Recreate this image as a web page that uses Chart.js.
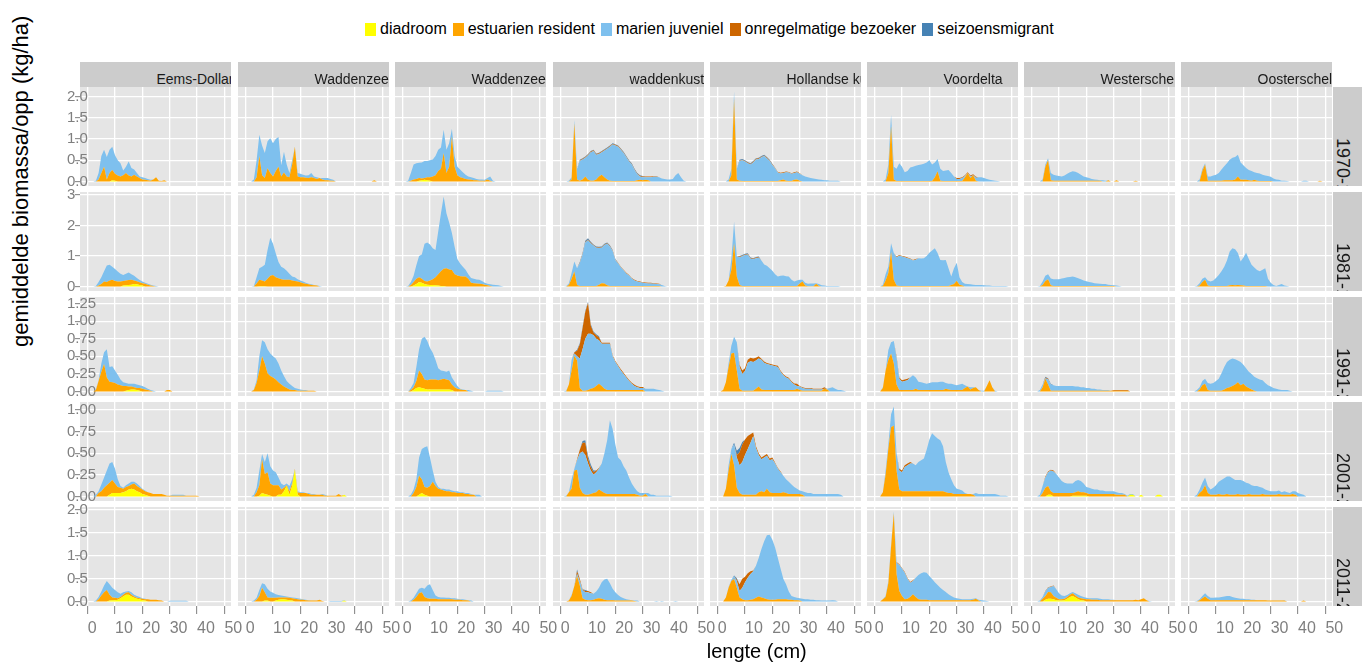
<!DOCTYPE html>
<html>
<head>
<meta charset="utf-8">
<script src="https://cdn.jsdelivr.net/npm/chart.js@4.4.0/dist/chart.umd.min.js"></script>
<style>
  html, body { margin: 0; padding: 0; }
  body { width: 1362px; height: 663px; background: #fff; position: relative; overflow: hidden;
         font-family: "Liberation Sans", Arial, sans-serif; }
  canvas { position: absolute; }
  .legend { position: absolute; left: 365px; top: 21px; height: 16px; display: flex; align-items: center;
            font-size: 16px; color: #000; white-space: nowrap; }
  .legend .item { display: flex; align-items: center; margin-right: 6px; }
  .legend .key { width: 11px; height: 13px; margin-right: 4px; }
  .strip { position: absolute; background: #cccccc; overflow: hidden; }
  .strip span { position: absolute; white-space: nowrap; color: #1a1a1a; }
  .title { position: absolute; white-space: nowrap; color: #000; transform-origin: 0 0; }
</style>
</head>
<body>
<script>
const regions = ['Eems-Dollard', 'Waddenzee west', 'Waddenzee oost', 'waddenkust', 'Hollandse kust', 'Voordelta', 'Westerschelde', 'Oosterschelde'];
const periods = ['1970-1980', '1981-1990', '1991-2000', '2001-2010', '2011-2020'];
const groups = ['diadroom', 'estuarien resident', 'marien juveniel', 'onregelmatige bezoeker', 'seizoensmigrant'];
const groupColors = ['#FFFF00', '#FFA500', '#7EC0EE', '#CD6600', '#4682B4'];

// lengte (cm)
const lengths = [0,1,2,3,4,5,6,7,8,9,10,11,12,13,14,15,16,17,18,19,20,21,22,23,24,25,26,27,28,29,30,31,32,33,34,35,36,37,38,39,40,41,42,43,44,45,46,47,48,49,50];
const xTicks = [0, 10, 20, 30, 40, 50];
const xTickLabels = ['0', '10', '20', '30', '40', '50'];
const yTicks = [[0, 0.5, 1, 1.5, 2], [0, 1, 2, 3], [0, 0.25, 0.5, 0.75, 1, 1.25], [0, 0.25, 0.5, 0.75, 1], [0, 0.5, 1, 1.5, 2]];
const yTickLabels = [['0.0', '0.5', '1.0', '1.5', '2.0'], ['0', '1', '2', '3'], ['0.00', '0.25', '0.50', '0.75', '1.00', '1.25'], ['0.00', '0.25', '0.50', '0.75', '1.00'], ['0.0', '0.5', '1.0', '1.5', '2.0']];

// biomass per length class, one list per region (columns), values from 0 cm upward

// ---- 1970-1980
const diadroom1970 = [
  [0,0,0,0,0,0,0,0,0,0.03,0.02],
  [],
  [0,0,0,0,0,0,0.02,0.03,0.04,0.03,0.02],
  [], [], [], [], []
];
const estuarien1970 = [
  [0,0,0,0,0.05,0.2,0.35,0.05,0.2,0.24,0.16,0.14,0.12,0.15,0.2,0.14,0.12,0.16,0.12,0.08,0.05,0.04,0.03,0.02,0.05,0.1,0.02,0.01,0.03],
  [0,0,0,0,0.1,0.6,0.15,0.08,0.31,0.2,0.12,0.25,0.35,0.12,0.21,0.12,0.1,0.4,0.82,0.12,0.1,0.1,0.09,0.08,0.1,0.08,0.06,0.08,0.05,0.03,0.03,0.02,0.02,0,0,0,0,0,0,0,0,0,0,0,0,0,0,0.03],
  [0,0,0,0.02,0.05,0.06,0.06,0.04,0.04,0.07,0.08,0.12,0.15,0.25,0.3,0.67,0.2,0.35,1.06,0.35,0.15,0.1,0.08,0.06,0.05,0.04,0.03,0.03,0.02,0.02,0.02,0.05,0.02],
  [0,0,0,0,0.05,1.37,0.05,0.02,0.05,0.12,0.04,0.02,0.02,0.05,0.12,0.16,0.1,0.05,0.02,0.01,0.01,0.01,0.01,0.01,0.01,0.01,0.01,0.01,0.03,0.04,0.03,0.04,0.03],
  [0,0,0,0,0,0.15,1.95,0.05,0.02,0.01,0.01,0.01,0.01,0.01,0.01,0.01,0.01,0.01,0.01,0.01,0.01,0.01,0.01,0.03,0.05,0.02,0.01,0.01,0.04,0.05,0.02],
  [0,0,0,0,0,0.2,1.3,0.05,0.01,0.01,0.01,0.01,0.01,0.01,0.01,0.01,0.01,0.01,0.01,0.01,0.01,0.01,0.1,0.24,0.02,0.01,0.01,0.01,0.01,0.01,0.01,0.01,0.01,0.1,0.2,0.08,0.15,0.02],
  [0,0,0,0,0,0.35,0.5,0.03,0.02,0.02,0.02,0.02,0.02,0.02,0.02,0.02,0.02,0.02,0.02,0.02,0.02,0.02,0.02,0.02,0.02,0.02,0,0,0.03,0,0,0.03,0,0,0,0,0,0,0.02],
  [0,0,0,0,0,0.25,0.4,0.02,0.02,0.02,0.02,0.02,0.02,0.03,0.03,0.03,0.03,0.05,0.12,0.04,0.04,0.04,0.03,0.02,0.04,0.02,0.01,0.01,0.01,0.01,0.01,0,0,0,0,0,0,0,0,0,0,0,0,0,0,0,0,0,0.02]
];
const marien1970 = [
  [0,0,0,0.02,0.15,0.4,0.4,0.53,0.55,0.55,0.44,0.36,0.31,0.11,0.15,0.33,0.2,0.12,0.08,0.04,0.05,0.04,0.03,0.02],
  [0,0,0,0.05,0.4,0.5,0.7,0.59,0.64,0.82,0.78,0.75,0.7,0.26,0.49,0.28,0.1,0.1,0,0.08,0.08,0.06,0.05,0.07,0.1,0.04,0.04,0,0.03,0.05,0.05,0.04,0.02],
  [0,0,0.02,0.18,0.35,0.37,0.36,0.38,0.4,0.38,0.4,0.4,0.45,0.5,0.5,0.55,0.55,0.55,0.18,0.25,0.2,0.18,0.14,0.1,0.07,0.06,0.05,0.03,0.03,0.03,0.02,0.03,0.1,0.02],
  [0,0,0,0.02,0.05,0.08,0.25,0.46,0.47,0.44,0.58,0.67,0.7,0.58,0.53,0.53,0.63,0.72,0.8,0.86,0.84,0.81,0.74,0.66,0.56,0.46,0.39,0.26,0.14,0.08,0.07,0.06,0.07,0.1,0.11,0.11,0.1,0.07,0.06,0.05,0.05,0.06,0.15,0.2,0.1,0.02],
  [0,0,0,0,0.05,0.15,0.17,0.25,0.46,0.49,0.46,0.42,0.39,0.44,0.51,0.52,0.56,0.59,0.54,0.47,0.38,0.3,0.2,0.16,0.15,0.2,0.2,0.17,0.16,0.17,0.16,0.15,0.12,0.1,0.08,0.07,0.06,0.05,0.04,0.03,0.03,0.02,0.02,0.02,0.02],
  [0,0,0,0,0.05,0.2,0.27,0.3,0.29,0.42,0.34,0.21,0.24,0.32,0.34,0.36,0.38,0.39,0.41,0.44,0.49,0.39,0.35,0.29,0.28,0.24,0.25,0.26,0.19,0.11,0.05,0.05,0.07,0.03,0,0.04,0,0.07,0.1,0.1,0.08,0.06,0.04,0.03,0.02,0.01],
  [0,0,0,0,0.05,0.05,0.05,0.17,0.14,0.12,0.11,0.1,0.12,0.16,0.2,0.22,0.21,0.18,0.14,0.1,0.08,0.06,0.04,0.03,0.02,0.01,0.03,0.02],
  [0,0,0,0,0.05,0.05,0.03,0.1,0.1,0.12,0.14,0.18,0.26,0.33,0.4,0.48,0.53,0.53,0.51,0.41,0.34,0.28,0.24,0.23,0.18,0.18,0.18,0.15,0.13,0.12,0.1,0.07,0.05,0.04,0.02,0.02,0.01,0,0,0,0,0,0.02,0.02]
];
const onregelmatig1970 = [
  [], [], [],
  [0,0,0,0,0,0,0,0.015,0.015,0.015,0.015,0.015,0.015,0.015,0.015,0.015,0.015,0.015,0.015,0.015,0.015,0.015,0.015,0.015,0.015,0.015,0.015,0.015,0.015,0.015,0.015,0.015,0.015,0.015,0.015,0.015],
  [0,0,0,0,0,0,0,0,0.015,0.015,0.015,0.015,0.015,0.015,0.015,0.015,0.015,0.015,0.015,0.015,0.015,0.015,0.015,0.015,0.015,0.015,0.015,0.015,0.015,0.015,0.015],
  [0,0,0,0,0,0,0,0,0,0,0,0,0,0,0,0,0,0,0,0,0,0,0,0,0,0,0,0,0,0,0.02,0.02,0.02,0.02,0.02,0.02,0.02,0.02],
  [], []
];
const seizoen1970 = [
  [], [], [],
  [0,0,0,0,0,0,0,0.015,0.015,0.015,0.015,0.015,0.015,0.015,0.015,0.015,0.015,0.015,0.015,0.015,0.015,0.015,0.015,0.015,0.015,0.015,0.015,0.015,0.015,0.015,0.015],
  [0,0,0,0,0,0,0,0,0.015,0.015,0.015,0.015,0.015,0.015,0.015,0.015,0.015,0.015,0.015,0.015,0.015],
  [], [], []
];

// ---- 1981-1990
const diadroom1981 = [
  [0,0,0,0,0,0,0,0,0,0,0,0,0,0.03,0.04,0.05,0.06,0.08,0.07,0.05,0.03],
  [0,0,0,0,0,0.01,0.01,0.01],
  [0,0,0,0,0.03,0.08,0.15,0.12,0.08,0.06,0.05,0.05,0.04,0.03,0.02,0.02],
  [], [], [], [], []
];
const estuarien1981 = [
  [0,0,0,0,0.03,0.08,0.16,0.15,0.2,0.22,0.18,0.16,0.16,0.15,0.16,0.16,0.16,0.12,0.1,0.09,0.08,0.09,0.06,0.03,0.02],
  [0,0,0,0,0.1,0.21,0.19,0.15,0.25,0.35,0.38,0.3,0.27,0.24,0.22,0.22,0.22,0.2,0.18,0.16,0.14,0.11,0.09,0.07,0.05,0.04,0.03],
  [0,0,0,0.05,0.12,0.17,0.15,0.13,0.1,0.1,0.15,0.19,0.26,0.37,0.48,0.56,0.6,0.56,0.54,0.4,0.36,0.34,0.33,0.33,0.25,0.12,0.11,0.1,0.09,0.08,0.06,0.04,0.02],
  [0,0,0,0.05,0.25,0.49,0.05,0.02,0.02,0.02,0.02,0.02,0.02,0.02,0.06,0.11,0.1,0.04,0.02,0.02,0.02,0.02,0.02,0.02,0.02,0.02,0.02,0.02,0.02,0.02,0.02,0.02,0.02,0.02,0.02,0.02,0.02],
  [0,0,0,0.02,0.2,0.54,1.42,0.33,0.05,0.02,0.02,0.02,0.02,0.02,0.02,0.02,0.02,0.02,0.02,0.02,0.02,0.02,0.02,0.02,0.02,0.02,0.02,0.02,0.02,0.02,0.1,0.16,0.03,0.01,0.01,0.01,0.09,0.02],
  [0,0,0,0.02,0.2,0.44,1.14,0.22,0.03,0.02,0.02,0.02,0.02,0.02,0.02,0.02,0.02,0.02,0.02,0.02,0.02,0.02,0.02,0.02,0.02,0.02,0.02,0.02,0.05,0.08,0.19,0.06,0.03],
  [0,0,0,0,0.05,0.18,0.24,0.04,0.02,0.02,0.02,0.02,0.02,0.02,0.02,0.02,0.02,0.02,0.02,0.02,0.02,0.02,0.02,0.02,0.02,0.02,0.02,0.02,0.02,0.02,0.02],
  [0,0,0,0,0.03,0.15,0.22,0.03,0.02,0.02,0.02,0.02,0.02,0.02,0.02,0.04,0.05,0.04,0.05,0.04,0.03,0.02,0.02,0.02,0.02,0.02,0.02,0.02,0.02]
];
const marien1981 = [
  [0,0,0,0.02,0.12,0.22,0.34,0.54,0.51,0.43,0.39,0.33,0.26,0.2,0.22,0.25,0.18,0.15,0.11,0.07,0.05,0.03,0.03,0.03,0.01,0.02],
  [0,0,0,0.02,0.2,0.38,0.45,0.55,0.95,1.25,1.02,0.79,0.53,0.41,0.38,0.3,0.2,0.13,0.12,0.08,0.06,0.05,0.03,0.02,0.02,0.01,0.01,0.02],
  [0,0,0.02,0.1,0.2,0.45,0.7,0.8,1.22,1.28,1.18,1.01,0.9,1.4,1.9,2.37,1.8,1.54,1.21,0.9,0.54,0.41,0.32,0.22,0.15,0.16,0.14,0.13,0.13,0.1,0.06,0.05,0.05,0.06,0.05,0.04,0.02],
  [0,0,0.01,0.05,0.2,0.33,0.55,0.74,1.03,1.42,1.5,1.4,1.32,1.25,1.2,1.16,1.26,1.36,1.29,1.14,0.84,0.74,0.61,0.51,0.41,0.34,0.24,0.18,0.14,0.12,0.1,0.09,0.08,0.08,0.07,0.06,0.05,0.05,0.02],
  [0,0,0,0,0,0.36,0.7,0.65,0.91,0.97,1.01,1.03,0.89,0.87,0.91,0.92,0.83,0.7,0.66,0.58,0.5,0.38,0.31,0.33,0.34,0.32,0.31,0.2,0.14,0.18,0.12,0.06,0.09,0.08,0.09,0.09,0.02,0.06,0.04,0.03,0.02,0.02,0.02,0.02,0.02],
  [0,0,0,0.04,0.2,0.21,0.28,0.88,0.93,0.99,0.96,0.94,0.91,0.88,0.83,0.86,0.91,0.9,0.91,0.98,1.09,1.16,1.23,1.08,0.85,0.84,0.85,0.58,0.28,0.52,0.59,0.24,0.12,0.09,0.08,0.07,0.06,0.05,0.05,0.05,0.04,0.03,0.03,0.02,0.02,0.02,0.02,0.02,0.02],
  [0,0,0,0.02,0.11,0.17,0.16,0.22,0.22,0.22,0.22,0.24,0.26,0.28,0.29,0.31,0.28,0.25,0.22,0.18,0.15,0.13,0.11,0.09,0.08,0.07,0.06,0.06,0.04,0.03,0.02,0.03,0.02],
  [0,0,0,0.02,0.08,0.1,0.08,0.17,0.14,0.18,0.26,0.36,0.48,0.63,0.83,1.11,1.2,1.18,1.05,0.78,0.92,1.09,0.88,0.69,0.6,0.52,0.48,0.53,0.58,0.25,0.12,0.05,0.02,0.05,0.08,0.03,0.02]
];
const onregelmatig1981 = [
  [], [], [],
  [0,0,0,0,0,0,0,0.02,0.02,0.02,0.02,0.02,0.02,0.02,0.02,0.02,0.02,0.02,0.02,0.02,0.02,0.02,0.02,0.02,0.02,0.02,0.02,0.02,0.02,0.02,0.02,0.02,0.02,0.02,0.02,0.02,0.02],
  [0,0,0,0,0,0,0,0,0.02,0.02,0.02,0.02,0.02,0.02,0.02,0.02],
  [0,0,0,0,0,0,0,0,0.02,0.02,0.02,0.02,0.02,0.02,0.02,0.02],
  [], []
];
const seizoen1981 = [
  [], [], [],
  [0,0,0,0,0,0,0,0.02,0.03,0.04,0.04,0.03,0.02,0.02,0.02,0.02,0.02,0.02,0.02,0.02,0.02],
  [0,0,0,0,0,0,0,0,0.02,0.02,0.02,0.02,0.02,0.02,0.02,0.02],
  [], [], []
];

// ---- 1991-2000
const diadroom1991 = [
  [0,0,0,0,0,0,0,0,0,0,0,0,0,0,0.01,0.02,0.03,0.03,0.02,0.01],
  [],
  [0,0,0,0,0.02,0.05,0.06,0.05,0.04,0.03,0.03,0.03,0.03,0.03,0.03,0.03,0.03,0.03,0.02],
  [], [], [], [], []
];
const estuarien1991 = [
  [0,0,0,0.02,0.15,0.28,0.39,0.2,0.14,0.13,0.12,0.1,0.09,0.08,0.07,0.05,0.04,0.03,0.03,0.04,0.04,0.03,0.02,0.01,0,0,0,0,0,0.02,0.02],
  [0,0,0,0.02,0.12,0.3,0.5,0.4,0.26,0.22,0.2,0.17,0.13,0.1,0.07,0.05,0.03,0.02,0.02,0.01,0.01,0.01,0.01,0.01,0.01,0.01],
  [0,0,0,0.02,0.04,0.1,0.24,0.2,0.13,0.13,0.14,0.14,0.14,0.13,0.14,0.15,0.14,0.13,0.08,0.06,0.04,0.03,0.02,0.02],
  [0,0,0,0.1,0.3,0.51,0.44,0.05,0.01,0.01,0.02,0.04,0.05,0.08,0.11,0.08,0.04,0.02,0.02,0.02,0.02,0.02,0.02,0.02,0.02,0.02,0.02,0.02,0.02,0.02,0.02],
  [0,0,0.02,0.13,0.35,0.54,0.55,0.3,0.04,0.01,0.01,0.01,0.01,0.01,0.04,0.07,0.03,0.02,0.02,0.02,0.02,0.02,0.02,0.02,0.02,0.02,0.02,0.02,0.02,0.04,0.02,0.01,0.01,0.01,0.01,0.01,0.01,0.01,0.01,0.04,0.03],
  [0,0,0,0.05,0.3,0.45,0.54,0.4,0.1,0.02,0.02,0.02,0.02,0.02,0.02,0.04,0.02,0.02,0.02,0.02,0.02,0.02,0.02,0.02,0.02,0.02,0.04,0.03,0.02,0.02,0.02,0.02,0.02,0.05,0.07,0.03,0.05,0.06,0.02,0,0,0.08,0.16,0.06],
  [0,0,0,0,0.06,0.18,0.1,0.01,0.01,0.01,0.01,0.01,0.01,0.01,0.01,0.01,0.01,0.01,0.01,0.01,0.01,0.01,0.01,0.01,0.01,0.01,0.01,0.01,0.01,0.01,0.01,0.01,0.01,0.01,0.01,0.01],
  [0,0,0,0,0.03,0.09,0.11,0.02,0.01,0.01,0.01,0.01,0.01,0.03,0.05,0.06,0.08,0.1,0.13,0.09,0.11,0.07,0.05,0.03,0.01]
];
const marien1991 = [
  [0,0,0,0.01,0.01,0.12,0.17,0.4,0.21,0.23,0.18,0.14,0.08,0.05,0.04,0.04,0.04,0.05,0.05,0.04,0.04,0.03,0.02,0.01,0.01],
  [0,0,0,0.01,0.04,0.2,0.23,0.3,0.34,0.32,0.3,0.3,0.27,0.2,0.15,0.1,0.08,0.06,0.03,0.03,0.02,0.01,0.01],
  [0,0,0,0.03,0.06,0.2,0.3,0.5,0.61,0.56,0.45,0.38,0.28,0.17,0.13,0.11,0.11,0.14,0.1,0.08,0.04,0.01,0.01,0,0.02,0.01,0,0,0,0,0,0.01,0.01,0.01,0.01,0.01,0.01],
  [0,0,0.01,0,0.15,0.03,0.06,0.42,0.59,0.74,0.8,0.78,0.75,0.67,0.62,0.6,0.64,0.66,0.66,0.48,0.4,0.34,0.28,0.23,0.18,0.13,0.09,0.06,0.04,0.03,0.03,0.04,0.04,0.04,0.04,0.03,0.02,0.01],
  [0,0,0,0,0.05,0.11,0.23,0.4,0.31,0.24,0.28,0.4,0.42,0.41,0.4,0.4,0.42,0.39,0.37,0.36,0.35,0.34,0.33,0.26,0.21,0.18,0.16,0.11,0.08,0.04,0.05,0.04,0.03,0.03,0.03,0.02,0.02,0.02,0.02,0,0.01,0.05,0.06,0.04,0.02,0.02,0.01],
  [0,0,0,0.01,0,0.14,0.16,0.32,0.38,0.16,0.12,0.13,0.14,0.18,0.21,0.16,0.12,0.11,0.1,0.09,0.1,0.11,0.11,0.11,0.12,0.12,0.08,0.08,0.09,0.08,0.07,0.08,0.09,0.04,0,0.03,0.01,0,0,0.01,0.01,0,0,0,0.01],
  [0,0,0,0.02,0.04,0.01,0.07,0.09,0.08,0.07,0.07,0.07,0.07,0.07,0.07,0.07,0.06,0.06,0.05,0.05,0.04,0.04,0.03,0.03,0.02,0.02,0.01,0.01,0.01],
  [0,0,0,0.02,0.03,0.06,0.07,0.1,0.1,0.11,0.14,0.17,0.25,0.32,0.37,0.39,0.39,0.36,0.31,0.33,0.27,0.26,0.23,0.22,0.2,0.19,0.17,0.16,0.12,0.09,0.07,0.05,0.04,0.03,0.02,0.02,0.02,0.01]
];
const onregelmatig1991 = [
  [], [], [],
  [0,0,0,0,0,0.02,0.08,0.2,0.3,0.38,0.44,0.12,0.04,0.05,0.04,0.015,0.015,0.015,0.015,0.015,0.015,0.015,0.015,0.015,0.015,0.015,0.015,0.015,0.015,0.015,0.015],
  [0,0,0,0,0,0,0,0,0.03,0.05,0.04,0.04,0.05,0.05,0.04,0.03,0.015,0.015,0.015,0.015,0.015,0.015,0.015,0.015,0.015,0.015,0.015,0.015,0.015,0.03,0.01,0.01,0.01,0.01,0.01,0.01,0.01,0.01,0.01,0.02],
  [0,0,0,0,0,0,0,0,0.02,0.02,0.02,0.02,0.02],
  [0,0,0,0,0,0.01,0.01,0,0,0,0,0,0,0,0,0,0,0,0,0,0,0,0,0,0,0,0,0,0,0,0.01,0.01,0.01,0.01,0.01,0.01],
  []
];
const seizoen1991 = [
  [], [], [],
  [0,0,0,0,0,0,0.015,0.015,0.015,0.015,0.015,0.015,0.015,0.015,0.015],
  [], [],
  [0,0,0,0,0,0.01,0.01,0.01],
  []
];

// ---- 2001-2010
const diadroom2001 = [
  [0,0,0,0,0,0,0,0,0.02,0.04,0.04,0.04,0.04,0.05,0.06,0.08,0.09,0.08,0.06,0.05,0.03,0.02,0.01],
  [0,0,0,0,0,0.01,0.04,0.03,0.02,0.01,0,0,0.02,0.02,0.06,0.12,0.02,0.12,0.31,0.02,0,0,0,0,0,0,0,0,0,0,0,0,0,0,0,0,0.02],
  [0,0,0,0,0,0,0.02,0.04,0.02,0.01],
  [], [], [],
  [0,0,0,0,0,0,0.02,0.02,0,0,0,0,0,0,0,0.01,0.01,0.01,0.01,0.01,0.01,0,0,0,0,0,0,0,0,0,0,0,0,0,0,0,0.02,0.02,0,0,0.02,0,0,0,0,0,0.02,0.02],
  []
];
const estuarien2001 = [
  [0,0,0,0,0.04,0.06,0.1,0.13,0.14,0.15,0.11,0.07,0.06,0.04,0.05,0.04,0.05,0.07,0.06,0.05,0.05,0.04,0.04,0.04,0.03,0.03,0.03,0.03,0.02,0.01,0.01,0.01,0.01,0.01,0.01,0.01,0.01,0.01,0.01,0.01,0.01],
  [0,0,0,0,0.05,0.12,0.39,0.23,0.26,0.14,0.13,0.13,0.11,0.06,0.04,0.01,0.04,0.03,0.01,0.03,0.04,0.04,0.04,0.03,0.02,0.02,0.02,0.02,0.02,0.01,0.01,0.01,0.01,0.01,0.03,0.01],
  [0,0,0,0,0.04,0.11,0.22,0.16,0.09,0.09,0.12,0.17,0.12,0.09,0.08,0.07,0.06,0.06,0.05,0.05,0.04,0.04,0.04,0.03,0.03,0.02,0.02],
  [0,0,0,0.05,0.09,0.3,0.31,0.1,0.04,0.02,0.02,0.03,0.04,0.05,0.08,0.06,0.04,0.03,0.03,0.03,0.03,0.03,0.03,0.03,0.03,0.03,0.03,0.03,0.02,0.01,0.01,0.03],
  [0,0,0,0.09,0.3,0.49,0.36,0.1,0.04,0.02,0.02,0.02,0.02,0.02,0.02,0.05,0.06,0.05,0.09,0.05,0.04,0.04,0.04,0.04,0.05,0.04,0.03,0.03,0.03,0.03,0.03,0.02],
  [0,0,0,0.05,0.25,0.55,0.8,0.82,0.3,0.08,0.06,0.06,0.06,0.06,0.06,0.06,0.06,0.06,0.06,0.06,0.06,0.06,0.06,0.06,0.06,0.06,0.05,0.04,0.04,0.03,0.03,0.03,0.03,0.03,0.03,0.03,0.02],
  [0,0,0,0,0.04,0.1,0.1,0.04,0.04,0.04,0.04,0.04,0.04,0.04,0.04,0.03,0.04,0.05,0.04,0.04,0.03,0.03,0.03,0.03,0.03,0.03,0.03,0.03,0.03,0.03,0.03,0.02,0.02,0.02,0.02],
  [0,0,0,0,0.04,0.07,0.13,0.04,0.02,0.02,0.02,0.03,0.02,0.02,0.03,0.02,0.02,0.02,0.03,0.02,0.02,0.02,0.03,0.02,0.02,0.02,0.02,0.03,0.02,0.02,0.02,0.02,0.02,0.03,0.02,0.02,0.02,0.02,0.03,0.02]
];
const marien2001 = [
  [0,0,0,0.02,0.02,0.08,0.12,0.17,0.22,0.21,0.17,0.09,0.02,0.01,0.02,0.03,0.03,0.02,0.03,0.02,0.01,0.01,0,0,0,0,0,0,0,0,0,0.01,0.01,0.01,0.01,0.01],
  [0,0,0,0.02,0.05,0.17,0.06,0.14,0.22,0.2,0.17,0.15,0.09,0.07,0.03,0.02,0.06,0.05,0,0.01,0.01,0.01,0,0.01,0.01,0.01,0,0,0.01,0.01],
  [0,0,0,0.02,0.04,0.09,0.21,0.35,0.46,0.48,0.33,0.13,0.05,0.02,0.01,0.02,0.02,0.02,0.02,0.01,0.02,0.01,0.01,0.01,0.01,0.01,0,0.02,0.02],
  [0,0,0.01,0,0.11,0.02,0.11,0.4,0.48,0.46,0.36,0.27,0.21,0.23,0.24,0.32,0.46,0.62,0.85,0.75,0.57,0.42,0.39,0.32,0.27,0.19,0.12,0.07,0.04,0.03,0.03,0.01,0.04,0.02,0.02,0.01,0.01,0.01,0.01,0.01,0.01],
  [0,0,0,0,0.06,0.06,0.24,0.35,0.32,0.38,0.46,0.53,0.6,0.68,0.54,0.43,0.37,0.4,0.38,0.37,0.39,0.34,0.28,0.24,0.19,0.16,0.14,0.11,0.08,0.06,0.04,0.04,0.05,0.04,0.04,0.03,0.03,0.03,0.03,0.03,0.03,0.03,0.03,0.03,0.03,0.02],
  [0,0,0,0,0.05,0.05,0.15,0.22,0.2,0.22,0.22,0.28,0.3,0.32,0.32,0.3,0.34,0.36,0.38,0.48,0.6,0.67,0.64,0.61,0.59,0.52,0.35,0.24,0.16,0.1,0.06,0.05,0.04,0.01,0,0,0.01,0.04,0.03,0.03,0.03,0.03,0.03,0.03,0.03,0.02,0.01,0.01,0.01],
  [0,0,0,0.02,0.08,0.12,0.16,0.24,0.25,0.22,0.18,0.14,0.12,0.11,0.11,0.11,0.13,0.13,0.13,0.1,0.07,0.07,0.06,0.05,0.05,0.04,0.04,0.03,0.03,0.03,0.03,0.03,0.02,0.02,0.01,0.01,0.01,0.01],
  [0,0,0,0.02,0.04,0.09,0.09,0.08,0.06,0.08,0.11,0.14,0.17,0.19,0.2,0.21,0.19,0.17,0.16,0.17,0.16,0.14,0.12,0.11,0.1,0.1,0.09,0.07,0.06,0.05,0.04,0.04,0.04,0.04,0.03,0.04,0.03,0.02,0.03,0.04,0.04,0.03,0.02]
];
const onregelmatig2001 = [
  [], [], [],
  [0,0,0,0,0,0,0.01,0.04,0.1,0.14,0.06,0.04,0.03,0.02,0.01],
  [0,0,0,0,0,0,0,0.03,0.15,0.2,0.18,0.15,0.1,0.04,0.02,0.02,0.02,0.02,0.02,0.02,0.02,0.01,0.01,0.01],
  [0,0,0,0,0,0,0,0,0,0.02,0.02,0.02,0.02,0.02],
  [0,0,0,0,0,0.01,0.01,0.01,0.01],
  []
];
const seizoen2001 = [
  [], [], [],
  [0,0,0,0,0,0,0,0,0.02,0.03,0.03,0.03,0.02],
  [0,0,0,0,0,0,0.02,0.05,0.05,0.03],
  [], [], []
];

// ---- 2011-2020
const diadroom2011 = [
  [0,0,0,0,0,0,0,0,0.02,0.03,0.03,0.04,0.07,0.11,0.15,0.15,0.11,0.08,0.06,0.05,0.03,0.02],
  [0,0,0,0,0,0,0,0.02,0.02,0,0,0.02,0.04,0.05,0.05,0.04,0.03,0.02,0,0,0,0,0,0,0,0,0,0,0,0,0,0,0,0,0,0,0.02],
  [], [], [], [],
  [0,0,0,0,0,0.04,0.06,0.06,0.05,0.03,0.02,0.02,0.03,0.06,0.1,0.12,0.09,0.05,0.03,0.02],
  []
];
const estuarien2011 = [
  [0,0,0,0,0.05,0.13,0.2,0.25,0.13,0.06,0.05,0.03,0.03,0.04,0.04,0.05,0.04,0.03,0.02,0.02,0.03,0.03,0.05,0.04,0.04,0.04,0.03,0.02],
  [0,0,0,0,0.04,0.12,0.3,0.18,0.07,0.08,0.08,0.06,0.05,0.04,0.04,0.05,0.05,0.05,0.06,0.05,0.04,0.04,0.03,0.02,0.02,0.02,0.02,0.04,0.01],
  [0,0,0,0,0.04,0.1,0.18,0.2,0.1,0.07,0.06,0.06,0.06,0.05,0.05,0.05,0.05,0.05,0.05,0.04,0.04,0.04,0.03,0.03,0.02],
  [0,0,0,0.02,0.12,0.34,0.56,0.35,0.07,0.04,0.03,0.03,0.04,0.06,0.07,0.06,0.04,0.03,0.03,0.03,0.02,0.02,0.02,0.02,0.02,0.02,0.02,0.01],
  [0,0,0,0.09,0.3,0.45,0.49,0.3,0.09,0.05,0.03,0.03,0.04,0.05,0.08,0.11,0.09,0.07,0.05,0.04,0.04,0.04,0.05,0.05,0.05,0.05,0.04,0.04,0.03,0.03,0.02],
  [0,0,0,0.05,0.1,0.4,1.2,1.93,0.6,0.23,0.12,0.05,0.06,0.1,0.16,0.1,0.05,0.04,0.04,0.04,0.03,0.03,0.03,0.03,0.03,0.03,0.03,0.03,0.03,0.03,0.03,0.03,0.03,0.03,0.03,0.03,0.04,0.06,0.02],
  [0,0,0,0,0.06,0.08,0.15,0.14,0.07,0.05,0.03,0.03,0.03,0.04,0.05,0.06,0.04,0.04,0.04,0.04,0.05,0.05,0.04,0.04,0.04,0.03,0.03,0.03,0.03,0.03,0.03,0.03,0.03,0.03,0.03,0.03,0.03,0.03,0.04,0.03,0.05,0.07,0.03],
  [0,0,0,0,0.03,0.07,0.11,0.06,0.03,0.03,0.03,0.03,0.03,0.03,0.03,0.03,0.03,0.03,0.03,0.03,0.03,0.03,0.03,0.03,0.03,0.03,0.03,0.03,0.03,0.02,0.02,0.02,0.02,0.02,0.02,0.02,0,0,0,0,0,0,0.02]
];
const marien2011 = [
  [0,0,0,0.02,0.05,0.09,0.15,0.2,0.23,0.21,0.17,0.13,0.07,0.05,0.03,0.03,0.05,0.04,0.04,0.03,0.01,0.01,0,0,0,0,0,0,0,0,0.015,0.015,0.015,0.015,0.015,0.015,0.015],
  [0,0,0,0.02,0.04,0.13,0.1,0.18,0.19,0.14,0.11,0.08,0.05,0.04,0.03,0.02,0.02,0.02,0.02,0.02,0.02,0.01,0.01,0.01,0,0,0,0,0,0,0,0.01,0.01,0.01,0.01,0.01,0.01],
  [0,0,0,0.02,0.04,0.08,0.1,0.1,0.18,0.28,0.32,0.19,0.07,0.05,0.04,0.04,0.03,0.03,0.02,0.03,0.02,0.01,0.02,0.01,0.01,0.02],
  [0,0,0,0,0.03,0,0.04,0.1,0.18,0.16,0.17,0.15,0.13,0.16,0.23,0.36,0.44,0.47,0.37,0.25,0.18,0.12,0.08,0.05,0.03,0.02,0.01,0.01,0.02,0,0,0,0,0,0,0.01,0,0.01,0,0,0,0,0.01],
  [0,0,0,0,0.02,0.02,0.06,0.15,0.14,0.25,0.39,0.49,0.56,0.61,0.7,0.84,1.06,1.25,1.4,1.42,1.31,1.14,0.9,0.67,0.45,0.33,0.18,0.08,0.07,0.05,0.05,0.06,0.05,0.05,0.04,0.04,0.03,0.03,0.02,0.02,0.02,0.02,0.03,0.02],
  [0,0,0,0,0.02,0.05,0.05,0.04,0.25,0.57,0.6,0.58,0.44,0.31,0.29,0.42,0.53,0.58,0.6,0.59,0.53,0.46,0.39,0.33,0.27,0.22,0.18,0.13,0.09,0.06,0.04,0.03,0.02,0.02,0.02,0.02,0.02,0.01,0.02,0.03,0.02,0.01],
  [0,0,0,0.02,0.04,0.1,0.09,0.12,0.22,0.19,0.13,0.08,0.06,0.04,0.03,0.03,0.05,0.06,0.05,0.04,0.03,0.02,0.03,0.03,0.03,0.03,0.02,0.02,0.02,0.01,0.01,0,0,0,0,0,0,0,0,0,0,0,0,0.01],
  [0,0,0,0.01,0.02,0.05,0.07,0.06,0.05,0.05,0.06,0.06,0.07,0.08,0.09,0.09,0.07,0.05,0.04,0.03,0.03,0.02,0.02,0.01,0.01,0,0,0,0,0,0,0,0,0,0,0.01]
];
const onregelmatig2011 = [
  [], [], [],
  [0,0,0,0,0,0,0.06,0.04,0.02,0.03,0.03,0.02],
  [0,0,0,0,0,0,0,0.03,0.15,0.2,0.12,0.1,0.06,0.02],
  [0,0,0,0,0,0,0,0,0.015,0.015,0.015,0.015,0.015,0.015,0.015],
  [0,0,0,0,0,0.01,0.01,0.01,0.01],
  []
];
const seizoen2011 = [
  [], [], [],
  [0,0,0,0,0,0,0.04,0,0,0.02],
  [0,0,0,0,0,0,0.02,0.03],
  [], [], []
];

const periodSeries = [
  [diadroom1970, estuarien1970, marien1970, onregelmatig1970, seizoen1970],
  [diadroom1981, estuarien1981, marien1981, onregelmatig1981, seizoen1981],
  [diadroom1991, estuarien1991, marien1991, onregelmatig1991, seizoen1991],
  [diadroom2001, estuarien2001, marien2001, onregelmatig2001, seizoen2001],
  [diadroom2011, estuarien2011, marien2011, onregelmatig2011, seizoen2011]
];

// layout
const colLeft = [80, 238, 395, 553, 710, 867, 1024, 1181];
const rowTop = [87, 192, 297, 402, 507];
const PW = 151, PH = 99, M = 14, YW = 13, XH = 34;
const yRange = [[-0.106, 2.226], [-0.1475, 3.0975], [-0.064, 1.344], [-0.052, 1.092], [-0.0985, 2.0685]];

Chart.defaults.font.family = '"Liberation Sans", Arial, sans-serif';

const panelBg = {
  id: 'panelBg',
  beforeDraw(chart) {
    const { ctx, chartArea } = chart;
    ctx.save();
    ctx.fillStyle = '#E5E5E5';
    ctx.fillRect(chartArea.left, chartArea.top, chartArea.right - chartArea.left, chartArea.bottom - chartArea.top);
    ctx.restore();
  }
};

function makePanel(r, c) {
  const showY = c === 0, showX = r === 4;
  const yw = showY ? YW : 0, xh = showX ? XH : 0;
  const w = PW + 2 * M + yw, h = PH + 2 * M + xh;
  const cv = document.createElement('canvas');
  cv.width = w; cv.height = h;
  cv.style.left = (colLeft[c] - M - yw) + 'px';
  cv.style.top = (rowTop[r] - M) + 'px';
  cv.style.width = w + 'px';
  cv.style.height = h + 'px';
  document.body.appendChild(cv);

  const datasets = groups.map((g, k) => {
    const vals = periodSeries[r][k][c] || [];
    return {
      label: g,
      data: lengths.map((x, i) => ({ x: x, y: i < vals.length ? vals[i] : 0 })),
      backgroundColor: groupColors[k],
      borderColor: 'rgba(0,0,0,0)',
      borderWidth: 0,
      pointRadius: 0,
      tension: 0,
      fill: k === 0 ? 'origin' : '-1'
    };
  });

  new Chart(cv, {
    type: 'line',
    data: { datasets },
    plugins: [panelBg],
    options: {
      responsive: false,
      animation: false,
      events: [],
      layout: { padding: { left: M, right: M, top: M, bottom: M } },
      plugins: { legend: { display: false }, tooltip: { enabled: false } },
      scales: {
        x: {
          type: 'linear', min: -2.8, max: 52.4,
          afterBuildTicks: s => { s.ticks = xTicks.map(v => ({ value: v })); },
          afterFit: s => { s.height = xh; s.paddingLeft = 0; s.paddingRight = 0; },
          grid: { color: '#ffffff', lineWidth: 1.3, drawTicks: showX, tickLength: 8, tickColor: '#7f7f7f', tickWidth: 1 },
          border: { display: false },
          ticks: {
            display: showX, align: 'start', padding: 5, color: '#7f7f7f',
            font: { size: 16 }, maxRotation: 0, minRotation: 0, autoSkip: false,
            callback: (v, i) => xTickLabels[i]
          }
        },
        y: {
          type: 'linear', stacked: true, min: yRange[r][0], max: yRange[r][1],
          afterBuildTicks: s => { s.ticks = yTicks[r].map(v => ({ value: v })); },
          afterFit: s => { s.width = yw; s.paddingTop = 0; s.paddingBottom = 0; },
          grid: { color: '#ffffff', lineWidth: 1.3, drawTicks: showY, tickLength: 5, tickColor: '#7f7f7f', tickWidth: 1 },
          border: { display: false },
          // labels start left of the panel and run into it, as in the original figure
          ticks: {
            display: showY, mirror: true, crossAlign: 'near', padding: -YW, color: '#7f7f7f',
            font: { size: 15 }, autoSkip: false,
            callback: (v, i) => yTickLabels[r][i]
          }
        }
      }
    }
  });
}

for (let r = 0; r < periods.length; r++) {
  for (let c = 0; c < regions.length; c++) makePanel(r, c);
}

// column strips
regions.forEach((name, c) => {
  const d = document.createElement('div');
  d.className = 'strip';
  Object.assign(d.style, { left: colLeft[c] + 'px', top: '62px', width: PW + 'px', height: '25px' });
  const s = document.createElement('span');
  s.textContent = name;
  Object.assign(s.style, { left: (PW / 2 + 1) + 'px', top: '9.7px', fontSize: '14px', lineHeight: '14px' });
  d.appendChild(s);
  document.body.appendChild(d);
});

// row strips
periods.forEach((p, r) => {
  const d = document.createElement('div');
  d.className = 'strip';
  Object.assign(d.style, { left: '1333px', top: rowTop[r] + 'px', width: '29px', height: PH + 'px' });
  const s = document.createElement('span');
  s.textContent = p;
  Object.assign(s.style, { left: '19px', top: '51px', fontSize: '18px', lineHeight: '18px',
    transformOrigin: '0 0', transform: 'rotate(90deg)' });
  d.appendChild(s);
  document.body.appendChild(d);
});

// legend
const legend = document.createElement('div');
legend.className = 'legend';
groups.forEach((g, k) => {
  const it = document.createElement('div');
  it.className = 'item';
  const key = document.createElement('div');
  key.className = 'key';
  key.style.background = groupColors[k];
  const t = document.createElement('span');
  t.textContent = g;
  it.appendChild(key); it.appendChild(t);
  legend.appendChild(it);
});
document.body.appendChild(legend);

// axis titles
const xTitle = document.createElement('div');
xTitle.className = 'title';
xTitle.textContent = 'lengte (cm)';
Object.assign(xTitle.style, { left: '706.7px', top: '640.7px', fontSize: '20px', lineHeight: '20px' });
document.body.appendChild(xTitle);

const yTitle = document.createElement('div');
yTitle.className = 'title';
yTitle.textContent = 'gemiddelde biomassa/opp (kg/ha)';
Object.assign(yTitle.style, { left: '10.4px', top: '347px', fontSize: '22px', lineHeight: '22px', transform: 'rotate(-90deg)' });
document.body.appendChild(yTitle);
</script>
</body>
</html>
